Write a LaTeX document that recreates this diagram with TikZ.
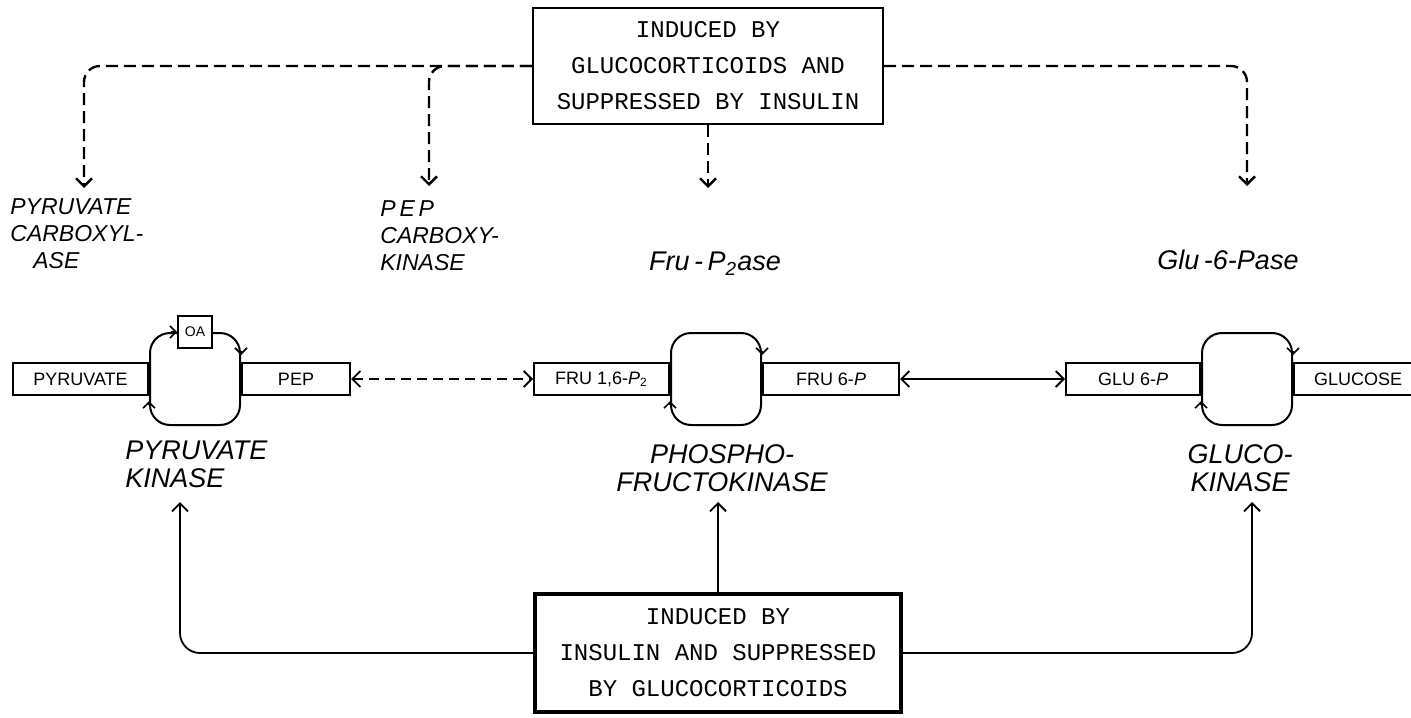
\documentclass[tikz,border=0pt]{standalone}
\usepackage{fontspec}
\setsansfont{Liberation Sans}
\setmonofont{Liberation Mono}
\usetikzlibrary{arrows.meta,positioning,calc}
\tikzset{notebox/.style={draw,line width=1.2pt,font=\ttfamily\fontsize{12}{18}\selectfont,align=center,minimum width=175pt,minimum height=58pt,inner sep=4pt}, enz/.style={font=\sffamily\itshape\fontsize{11.5}{13.5}\selectfont,align=left,inner sep=0pt}, kin/.style={font=\sffamily\itshape\fontsize{13.5}{14}\selectfont,align=left,inner sep=0pt}, bar/.style={draw,line width=1pt,font=\sffamily\small,minimum height=16pt,inner sep=2pt}, cyc/.style={draw,line width=1pt,rounded corners=10pt,minimum width=45pt,minimum height=46pt}, tip/.style={-{Straight Barb[length=3pt,width=6pt]},line width=0.8pt}, ctrl/.style={-{Straight Barb[length=4pt,width=8pt]},line width=1.2pt,dash pattern=on 6pt off 3pt,rounded corners=8pt}, feed/.style={-{Straight Barb[length=4pt,width=8pt]},line width=0.9pt,rounded corners=10pt}, swap/.style={{Straight Barb[length=4pt,width=8pt]}-{Straight Barb[length=4pt,width=8pt]},line width=0.9pt}}

\begin{document}
\begin{tikzpicture}[x=0.5pt,y=-0.5pt]
\useasboundingbox (0,0) rectangle (1411,717);
% hormone control, top
\node[notebox] (topbox) at (708,66) {INDUCED BY\\GLUCOCORTICOIDS AND\\SUPPRESSED BY INSULIN};
\coordinate (t1) at (84,188);
\coordinate (t2) at (429,186);
\coordinate (t3) at (708,188);
\coordinate (t4) at (1247,186);
\draw[ctrl] (topbox.west) -| (t1);
\draw[ctrl] (topbox.west) -| (t2);
\draw[ctrl] (topbox.south) -- (t3);
\draw[ctrl] (topbox.east) -| (t4);
\node[enz,anchor=north west] (pcase) at (10,198) {PYRUVATE\\CARBOXYL-\\\hspace*{1em}ASE};
\node[enz,anchor=north west] (pepck) at (380,200) {P\,E\,P\\CARBOXY-\\KINASE};
\node[kin,anchor=north] (fbpase) at (715,252) {Fru\,-\,P\textsubscript{2}ase};
\node[kin,anchor=north] (g6pase) at (1228,250) {Glu\,-6-Pase};
% the three cycles
\node[cyc] (cyc1) at (195,379) {};
\node[bar,left=0pt of cyc1,minimum width=67.5pt] (pyr) {PYRUVATE};
\node[bar,right=0pt of cyc1,minimum width=54pt] (pep) {PEP};
\node[draw,line width=0.9pt,fill=white,font=\sffamily\scriptsize,minimum width=17pt,minimum height=16pt,inner sep=1pt] (oa) at (cyc1.north) {OA};
\node[cyc] (cyc2) at (716,379) {};
\node[bar,left=0pt of cyc2,minimum width=67.5pt] (fbp) {FRU 1,6-\textit{P}\textsubscript{2}};
\node[bar,right=0pt of cyc2,minimum width=68pt] (f6p) {FRU 6-\textit{P}};
\node[cyc] (cyc3) at (1247,379) {};
\node[bar,left=0pt of cyc3,minimum width=67pt] (g6p) {GLU 6-\textit{P}};
\node[bar,right=0pt of cyc3,minimum width=64pt] (glc) {GLUCOSE};
\draw[tip] ([xshift=-3pt]oa.west) -- (oa.west);
\foreach \c in {cyc1,cyc2,cyc3}{
  \draw[tip] ([yshift=14pt]\c.east) -- ([yshift=12pt]\c.east);
  \draw[tip] ([yshift=-13pt]\c.west) -- ([yshift=-11pt]\c.west);
}
\draw[swap,dash pattern=on 5pt off 3pt] (pep) -- (fbp);
\draw[swap] (f6p) -- (g6p);
\node[kin,anchor=north west] (pk) at (125,441) {PYRUVATE\\KINASE};
\node[kin,anchor=north,align=center] (pfk) at (722,444) {PHOSPHO-\\FRUCTOKINASE};
\node[kin,anchor=north,align=center] (gk) at (1240,444) {GLUCO-\\KINASE};
% hormone control, bottom
\node[notebox,line width=1.6pt,minimum width=183pt,minimum height=59pt] (botbox) at (718,653) {INDUCED BY\\INSULIN AND SUPPRESSED\\BY GLUCOCORTICOIDS};
\coordinate (b1) at (180,502);
\coordinate (b2) at (718,502);
\coordinate (b3) at (1252,502);
\draw[feed] (botbox.west) -| (b1);
\draw[feed] (botbox.north) -- (b2);
\draw[feed] (botbox.east) -| (b3);
\end{tikzpicture}
\end{document}
